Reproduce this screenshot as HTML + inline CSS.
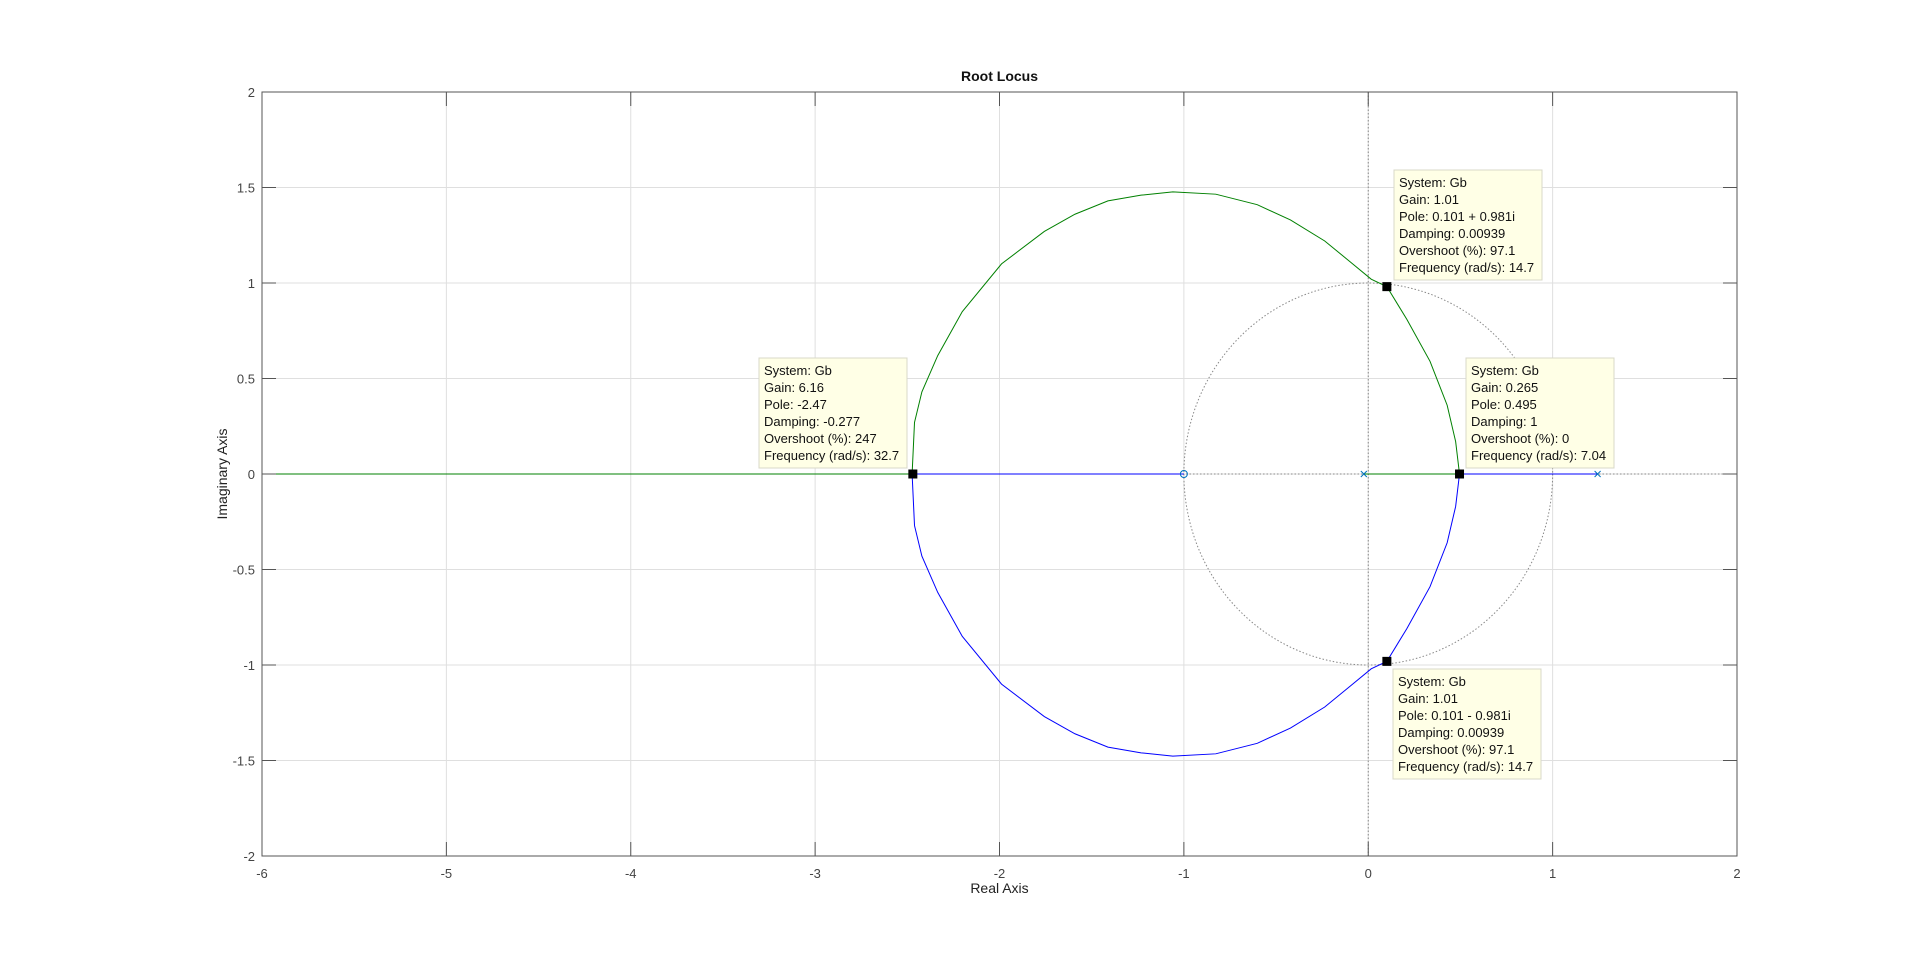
<!DOCTYPE html>
<html><head><meta charset="utf-8"><style>
html,body{margin:0;padding:0;background:#fff;}
svg{display:block;font-family:"Liberation Sans",Arial,sans-serif;}
</style></head><body>
<svg id="c" width="1920" height="963"></svg>
<script>
const xTicks=[-6,-5,-4,-3,-2,-1,0,1,2];
const yTicks=[2,1.5,1,0.5,0,-0.5,-1,-1.5,-2];
const branchRe=[-2.474,-2.461,-2.421,-2.335,-2.202,-1.989,-1.757,-1.591,-1.412,-1.232,-1.06,-0.827,-0.602,-0.422,-0.236,-0.097,0.016,0.101,0.209,0.335,0.428,0.474,0.495];
const branchIm=[0,0.27,0.43,0.62,0.85,1.10,1.27,1.36,1.43,1.46,1.477,1.465,1.41,1.33,1.22,1.11,1.02,0.981,0.81,0.59,0.36,0.17,0];
const poles=[-0.024,1.244];
const zeros=[-1];
const tipRe=[-2.47,0.101,0.495,0.101];
const tipIm=[0,0.981,0,-0.981];
const tipText=[
["System: Gb","Gain: 6.16","Pole: -2.47","Damping: -0.277","Overshoot (%): 247","Frequency (rad/s): 32.7"],
["System: Gb","Gain: 1.01","Pole: 0.101 + 0.981i","Damping: 0.00939","Overshoot (%): 97.1","Frequency (rad/s): 14.7"],
["System: Gb","Gain: 0.265","Pole: 0.495","Damping: 1","Overshoot (%): 0","Frequency (rad/s): 7.04"],
["System: Gb","Gain: 1.01","Pole: 0.101 - 0.981i","Damping: 0.00939","Overshoot (%): 97.1","Frequency (rad/s): 14.7"]];
const tipBox=[[759,358],[1394,170],[1466,358],[1393,669]];

const L=262,R=1737,T=92,B=856;
const X=v=>L+(v+6)/8*(R-L);
const Y=v=>T+(2-v)/4*(B-T);
const svg=document.getElementById('c');
const NS='http://www.w3.org/2000/svg';
function mk(tag,attrs,parent){const e=document.createElementNS(NS,tag);for(const k in attrs)e.setAttribute(k,attrs[k]);(parent||svg).appendChild(e);return e;}

// grid
xTicks.forEach(v=>{const l=mk('line',{x1:X(v),x2:X(v),y1:T,y2:B,stroke:'#dfdfdf','stroke-width':1});
});
yTicks.forEach(v=>{const l=mk('line',{x1:L,x2:R,y1:Y(v),y2:Y(v),stroke:'#dfdfdf','stroke-width':1});
});
// dotted axes and unit circle
let d=mk('line',{x1:X(0),x2:X(0),y1:T,y2:B,stroke:'#888','stroke-width':1,'stroke-dasharray':'1.5,2'});

d=mk('line',{x1:L,x2:R,y1:Y(0),y2:Y(0),stroke:'#888','stroke-width':1,'stroke-dasharray':'1.5,2'});

d=mk('ellipse',{cx:X(0),cy:Y(0),rx:X(1)-X(0),ry:Y(0)-Y(1),fill:'none',stroke:'#888','stroke-width':1,'stroke-dasharray':'1.5,2'});


// branches
const up=branchRe.map((r,i)=>X(r)+','+Y(branchIm[i])).join(' ');
const dn=branchRe.map((r,i)=>X(r)+','+Y(-branchIm[i])).join(' ');
let p=mk('polyline',{points:up,fill:'none',stroke:'#008000','stroke-width':1});

p=mk('polyline',{points:dn,fill:'none',stroke:'#0000ff','stroke-width':1});

const first=branchRe[0],last=branchRe[branchRe.length-1];
p=mk('line',{x1:L,x2:X(first),y1:Y(0),y2:Y(0),stroke:'#008000','stroke-width':1});

p=mk('line',{x1:X(first),x2:X(zeros[0]),y1:Y(0),y2:Y(0),stroke:'#0000ff','stroke-width':1});

p=mk('line',{x1:X(poles[0]),x2:X(last),y1:Y(0),y2:Y(0),stroke:'#008000','stroke-width':1});

p=mk('line',{x1:X(last),x2:X(poles[1]),y1:Y(0),y2:Y(0),stroke:'#0000ff','stroke-width':1});


// poles & zeros
poles.forEach(v=>{const g=mk('path',{d:`M${X(v)-3},${Y(0)-3}L${X(v)+3},${Y(0)+3}M${X(v)-3},${Y(0)+3}L${X(v)+3},${Y(0)-3}`,stroke:'#0072bd','stroke-width':1});
});
zeros.forEach(v=>{const g=mk('circle',{cx:X(v),cy:Y(0),r:3.5,fill:'none',stroke:'#0072bd','stroke-width':1});
});

// axes box
const bx=mk('rect',{x:L,y:T,width:R-L,height:B-T,fill:'none',stroke:'#555','stroke-width':1});

xTicks.forEach(v=>{
 mk('line',{x1:X(v),x2:X(v),y1:B,y2:B-14,stroke:'#555'});mk('line',{x1:X(v),x2:X(v),y1:T,y2:T+14,stroke:'#555'});
 const t=mk('text',{x:X(v),y:B+22,'text-anchor':'middle','font-size':13,fill:'#444'});t.textContent=v;
 });
yTicks.forEach(v=>{
 mk('line',{x1:L,x2:L+14,y1:Y(v),y2:Y(v),stroke:'#555'});mk('line',{x1:R,x2:R-14,y1:Y(v),y2:Y(v),stroke:'#555'});
 const t=mk('text',{x:L-7,y:Y(v)+5,'text-anchor':'end','font-size':13,fill:'#444'});t.textContent=v;
 });

// data tips
tipRe.forEach((r,i)=>{
 const [bx0,by0]=tipBox[i];
 const g=mk('g',{});
 
 mk('rect',{x:bx0,y:by0,width:148,height:110,fill:'#ffffe6',stroke:'#d8d8c8','stroke-width':1},g);
 tipText[i].forEach((s,j)=>{const t=mk('text',{x:bx0+5,y:by0+17+j*17,'font-size':13,fill:'#111'},g);t.textContent=s;});
 const m=mk('rect',{x:X(r)-4.5,y:Y(tipIm[i])-4.5,width:9,height:9,fill:'#000'},g);
 
});

let t=mk('text',{x:(L+R)/2,y:81,'text-anchor':'middle','font-size':14,'font-weight':'bold',fill:'#111'});t.textContent='Root Locus';

t=mk('text',{x:(L+R)/2,y:893,'text-anchor':'middle','font-size':14,fill:'#222'});t.textContent='Real Axis';

t=mk('text',{x:0,y:0,'text-anchor':'middle','font-size':14,fill:'#222',transform:`translate(227,${(T+B)/2}) rotate(-90)`});t.textContent='Imaginary Axis';

</script>
</body></html>
